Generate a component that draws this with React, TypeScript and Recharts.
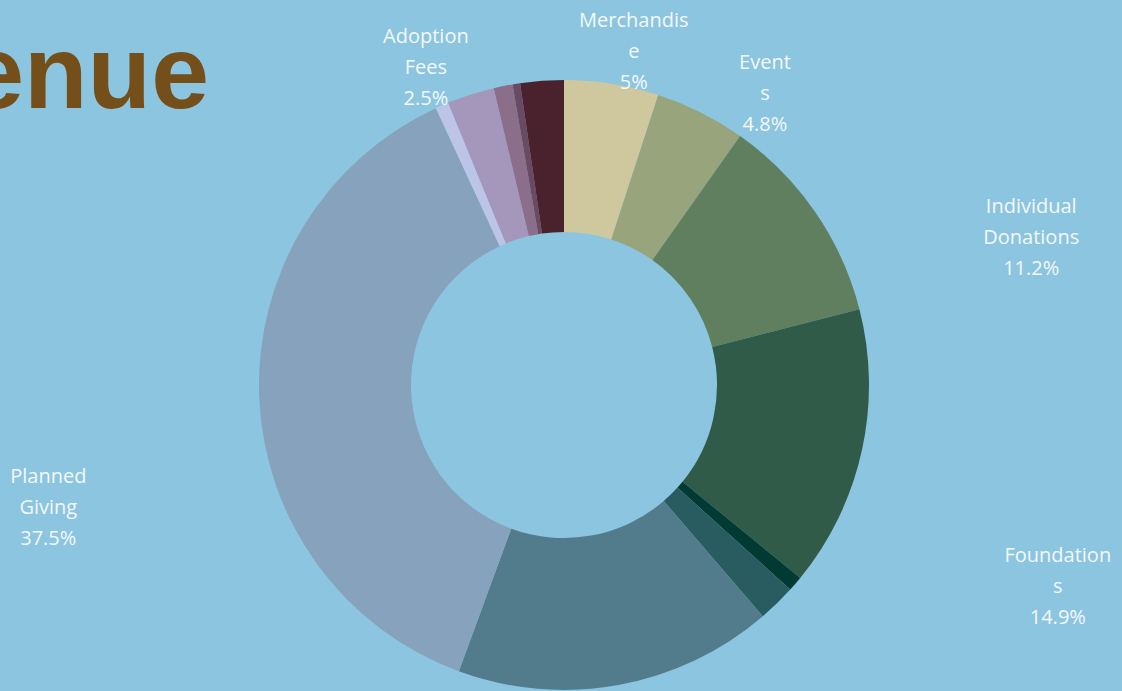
import { PieChart, Pie, Cell } from "recharts";

// revenue sources, clockwise from 12 o'clock
const categories = [
  "Merchandise",
  "Events",
  "Individual Donations",
  "Foundations",
  "Bequests",
  "Grants",
  "Corporate Giving",
  "Planned Giving",
  "Memberships",
  "Adoption Fees",
  "Investments",
  "In-Kind",
  "Other",
];
const shares = [5, 4.8, 11.2, 14.9, 0.8, 2, 16.9, 37.5, 0.7, 2.5, 1, 0.4, 2.3];

// wrapped label text as shown in the original (null = no label drawn)
const labelLines: (string[] | null)[] = [
  ["Merchandis", "e"],
  ["Event", "s"],
  ["Individual", "Donations"],
  ["Foundation", "s"],
  null,
  null,
  null,
  ["Planned", "Giving"],
  null,
  ["Adoption", "Fees"],
  null,
  null,
  null,
];

const colors = [
  "#cfc89e",
  "#97a47c",
  "#5f7f5f",
  "#2f5b48",
  "#003a33",
  "#285c60",
  "#527b8c",
  "#86a2bc",
  "#bcc4e8",
  "#a597bc",
  "#8a6e8a",
  "#6a4a60",
  "#4a222e",
];

// label offsets from the default radial spot
const labelNudge: Record<number, [number, number]> = {
  0: [15, 12],
  1: [44, 21],
  2: [179, 51],
  3: [152, 126],
  7: [-166, 108],
  9: [-31, 15],
};

const RAD = Math.PI / 180;
const BG = "#8cc5df";

const data = categories.map((name, i) => ({ name, value: shares[i] }));

function renderLabel(props: any) {
  const { cx, cy, midAngle, outerRadius, index } = props;
  const lines = labelLines[index];
  if (!lines) return null;
  const r = outerRadius + 45;
  const nudge = labelNudge[index] || [0, 0];
  const x = cx + r * Math.cos(-midAngle * RAD) + nudge[0];
  const y = cy + r * Math.sin(-midAngle * RAD) + nudge[1];
  const all = [...lines, `${shares[index]}%`];
  const lh = 31;
  const y0 = y - ((all.length - 1) * lh) / 2 + 7;
  return (
    <text
      key={`lbl-${index}`}
      x={x}
      y={y0}
      textAnchor="middle"
      fill="#f4f8fb"
      fontFamily="'Open Sans', sans-serif"
      fontSize={20}
    >
      {all.map((t, i) => (
        <tspan key={i} x={x} y={y0 + i * lh}>
          {t}
        </tspan>
      ))}
    </text>
  );
}

export default function App() {
  return (
    <div
      style={{
        position: "fixed",
        left: 0,
        top: 0,
        width: 1122,
        height: 691,
        background: BG,
        overflow: "hidden",
      }}
    >
      <PieChart width={1122} height={691} margin={{ top: 0, right: 0, bottom: 0, left: 0 }}>
        <Pie
          data={data}
          dataKey="value"
          nameKey="name"
          cx={564}
          cy={385}
          innerRadius={153}
          outerRadius={305}
          startAngle={90}
          endAngle={-270}
          stroke="none"
          label={renderLabel}
          labelLine={false}
          isAnimationActive={false}
        >
          {data.map((d, i) => (
            <Cell key={d.name} fill={colors[i]} />
          ))}
        </Pie>
      </PieChart>
      <svg
        width={1122}
        height={691}
        style={{ position: "absolute", left: 0, top: 0, pointerEvents: "none" }}
      >
        <text
          x={209}
          y={108}
          textAnchor="end"
          fontFamily="'Liberation Sans', Arial, sans-serif"
          fontWeight="bold"
          fontSize={104}
          fill="#744f19"
        >
          Revenue
        </text>
      </svg>
    </div>
  );
}
